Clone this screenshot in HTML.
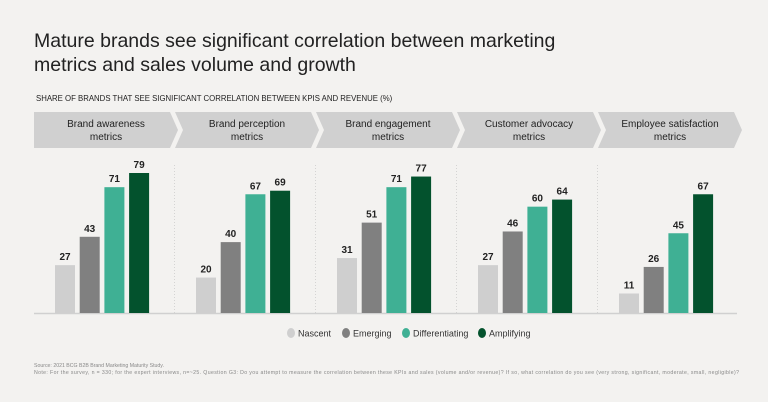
<!DOCTYPE html>
<html><head><meta charset="utf-8"><style>
body{margin:0;background:#f3f2f0;font-family:"Liberation Sans",sans-serif;}
#wrap{position:relative;width:768px;height:402px;overflow:hidden;background:#f3f2f0}
</style></head><body>
<div id="wrap">
<svg id="svg" width="768" height="402">
<text x="34" y="47" font-size="19.5" fill="#222">Mature brands see significant correlation between marketing</text>
<text x="34" y="71" font-size="19.5" fill="#222">metrics and sales volume and growth</text>
<text x="36" y="101" font-size="7.8" fill="#222">SHARE OF BRANDS THAT SEE SIGNIFICANT CORRELATION BETWEEN KPIS AND REVENUE (%)</text>
<g id="heads"></g>
<g id="seps"></g>
<line x1="34" y1="313.5" x2="737" y2="313.5" stroke="#d0d0d0" stroke-width="1.5"/>
<g id="bars"></g>
<g id="legend"></g>
<text x="34" y="367" font-size="5.2" fill="#888">Source: 2021 BCG B2B Brand Marketing Maturity Study.</text>
<text x="34" y="374" font-size="5.2" fill="#888" textLength="705">Note: For the survey, n = 330; for the expert interviews, n=~25. Question G3: Do you attempt to measure the correlation between these KPIs and sales (volume and/or revenue)? If so, what correlation do you see (very strong, significant, moderate, small, negligible)?</text>
</svg>
</div>
<script>
const categories=[["Brand awareness","metrics"],["Brand perception","metrics"],["Brand engagement","metrics"],["Customer advocacy","metrics"],["Employee satisfaction","metrics"]];
const seriesNames=["Nascent","Emerging","Differentiating","Amplifying"];
const nascent=[27,20,31,27,11];
const emerging=[43,40,51,46,26];
const differentiating=[71,67,71,60,45];
const amplifying=[79,69,77,64,67];
const colors=["#cfcfcf","#808080","#3fb094","#03522d"];
const series=[nascent,emerging,differentiating,amplifying];
const NS="http://www.w3.org/2000/svg";
const base=313, scale=140/79;
const y=v=>base-v*scale;
const gx=i=>55+i*141;
const bx=(i,s)=>gx(i)+s*24.7;
function mk(t,a,p){const e=document.createElementNS(NS,t);for(const k in a)e.setAttribute(k,a[k]);p.appendChild(e);return e;}
const heads=document.getElementById('heads'),seps=document.getElementById('seps'),bars=document.getElementById('bars'),leg=document.getElementById('legend');
categories.forEach((c,i)=>{
  const x0=34+i*141, x1=x0+136, t=112, b=148, m=130, d=8;
  const pts=i===0?`${x0},${t} ${x1},${t} ${x1+d},${m} ${x1},${b} ${x0},${b}`:`${x0},${t} ${x1},${t} ${x1+d},${m} ${x1},${b} ${x0},${b} ${x0+d},${m}`;
  const p=mk('polygon',{points:pts,fill:'#d0d0d0'},heads);
  
  
  const cx=x0+72;
  const t1=mk('text',{x:cx,y:127,'font-size':10,'text-anchor':'middle',fill:'#222'},heads);t1.textContent=c[0];
  
  
  const t2=mk('text',{x:cx,y:140,'font-size':10,'text-anchor':'middle',fill:'#222'},heads);t2.textContent=c[1];
  
  
  if(i>0){const l=mk('line',{x1:x0-0.5,y1:165,x2:x0-0.5,y2:313,stroke:'#ccc','stroke-dasharray':'1,2','stroke-width':0.8},seps);
    
    }
  series.forEach((s,j)=>{
    const v=s[i];
    const r=mk('rect',{x:bx(i,j),y:y(v),width:20,height:base-y(v),fill:colors[j]},bars);
    
    
    const tx=mk('text',{x:bx(i,j)+10,y:y(v)-5,'font-size':10,'font-weight':'bold','text-anchor':'middle',fill:'#222'},bars);
    tx.textContent=v;
    
    
  });
});
const lx=[291,346,406,482];
seriesNames.forEach((n,j)=>{
  const g=mk('g',{},leg);
  
  
  mk('ellipse',{cx:lx[j],cy:333,rx:4,ry:5,fill:colors[j]},g);
  const t=mk('text',{x:lx[j]+7,y:336.5,'font-size':9,fill:'#333'},g);t.textContent=n;
});
</script>
</body></html>
